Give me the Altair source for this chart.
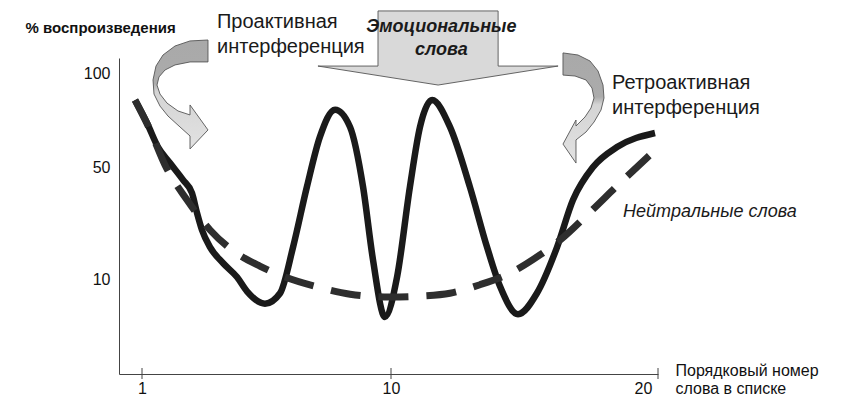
import altair as alt
import pandas as pd

# ---------------- chart data (word position in list, % recall) ----------------
emotional_pos = [0.747, 1.181, 1.578, 2.012, 2.482, 2.807, 2.988, 3.168, 3.458, 3.927, 4.433, 4.795,
                 5.445, 5.99, 6.46, 6.96, 7.43, 7.98, 8.52, 8.99, 9.35, 9.78, 10.24, 10.75, 11.15,
                 11.63, 12.34, 13.13, 13.81, 14.33, 15.04, 15.79, 16.59, 17.22, 18.02, 18.97, 20.48]
emotional_recall = [85.6, 73.4, 60.6, 52.1, 45.4, 40.7, 33.6, 27.5, 21.4, 15.7, 10.7, 8.7,
                    7.4, 8.5, 21.4, 42.9, 66.0, 80.5, 71.3, 42.9, 16.8, 6.0, 10.7, 42.9, 71.3,
                    85.6, 71.3, 42.9, 21.4, 9.2, 6.3, 8.5, 21.4, 38.2, 50.0, 60.6, 68.1]

neutral_pos = [0.75, 1.29, 1.83, 2.63, 3.46, 4.36, 5.26, 6.17, 7.43, 8.52, 9.96, 11.15, 12.34,
               13.53, 14.72, 15.91, 16.71, 17.90, 19.09, 20.28]
neutral_recall = [85.6, 69.7, 51.1, 38.2, 27.5, 19.6, 14.6, 10.7, 9.1, 8.4, 8.1, 8.2, 8.5,
                  9.4, 12.1, 18.6, 23.9, 33.9, 44.3, 56.4]

x_tick_values = [1, 10, 20]
y_tick_values = [10, 50, 100]
x_tick_marks = [1, 10, 20.6]

# scale breakpoints (schematic, non-uniform axis)
x_domain = [0.17, 1, 10, 20, 20.6]
y_domain = [0, 10, 50, 100, 108]

# ---------------- annotation shapes, in data units ----------------
emo_arrow_x = [7.36, 9.53, 9.531, 14.25, 14.251, 16.63, 11.87, 7.36]
emo_arrow_y = [103.7, 103.7, 133.1, 133.1, 103.7, 103.7, 93.6, 103.7]

pro_arrow_x = [3.385, 2.735, 2.193, 1.759, 1.506, 1.398, 1.434, 1.651, 1.940, 2.373, 2.735,
               2.735, 3.385, 2.735, 2.735, 2.301, 1.904, 1.651, 1.542, 1.614, 1.831, 2.193,
               2.735, 3.385, 3.385]
pro_arrow_y = [117.6, 117.1, 114.4, 109.6, 103.7, 96.3, 88.8, 82.4, 77.1, 71.3, 66.5,
               59.6, 69.7, 83.0, 77.7, 79.8, 84.0, 88.8, 93.6, 97.9, 101.6, 104.3,
               105.9, 105.9, 117.6]

retro_arrow_x = [16.825, 17.421, 17.897, 18.214, 18.413, 18.452, 18.333, 18.056, 17.738, 17.341,
                 17.341, 16.825, 17.341, 17.341, 17.698, 17.937, 18.056, 17.976, 17.738, 17.302,
                 16.825, 16.825]
retro_arrow_y = [110.7, 109.6, 106.4, 101.1, 93.6, 86.7, 80.3, 73.9, 68.6, 64.4,
                 52.1, 62.2, 75.0, 71.8, 76.6, 81.4, 86.7, 92.0, 96.3, 98.4,
                 98.9, 110.7]

interf_labels = ["Проактивная", "интерференция", "Ретроактивная", "интерференция"]
interf_x = [3.71, 3.71, 18.77, 18.77]
interf_y = [127.2, 113.9, 94.7, 81.4]

emo_labels = ["Эмоциональные", "слова"]
emo_label_x = [12.0, 12.0]
emo_label_y = [124.5, 112.3]

neutral_label = ["Нейтральные слова"]
neutral_label_x = [19.21]
neutral_label_y = [33.9]

# ---------------- build ----------------
W, H = 539, 316
FONT = "Liberation Sans"

xs = alt.Scale(domain=x_domain, range=[0, 23, 272, 524, 539], nice=False, zero=False)
ys = alt.Scale(domain=y_domain, range=[316, 221, 109, 15, 0], nice=False, zero=False)

x_axis = alt.Axis(
    values=x_tick_values, ticks=False, grid=False, labelFlush=False,
    labelFontSize=16, labelFont=FONT, labelColor="#111", labelPadding=6,
    labelBaseline="top", domainColor="#444", domainWidth=1,
    title=["Порядковый номер", "слова в списке"], titleFont=FONT,
    titleFontSize=16, titleFontWeight="normal", titleColor="#111", titleAngle=0,
    titleX=556, titleY=-4, titleAlign="left", titleBaseline="middle", titleLineHeight=18)
y_axis = alt.Axis(
    values=y_tick_values, ticks=False, grid=False, labelFlush=False,
    labelFontSize=16, labelFont=FONT, labelColor="#111", labelPadding=9,
    domainColor="#444", domainWidth=1,
    title="% воспроизведения", titleFont=FONT, titleFontSize=15,
    titleFontWeight="bold", titleColor="#111", titleAngle=0,
    titleX=-94, titleY=-31, titleAlign="left", titleBaseline="middle")


def X(field):
    return alt.X(field, scale=xs, axis=x_axis)


def Y(field):
    return alt.Y(field, scale=ys, axis=y_axis)


emo_df = pd.DataFrame({"pos": emotional_pos, "recall": emotional_recall})
neu_df = pd.DataFrame({"pos": neutral_pos, "recall": neutral_recall})

main = alt.Chart(emo_df).mark_line(
    color="#1a1a1a", strokeWidth=6.5, interpolate="monotone"
).encode(x=X("pos:Q"), y=Y("recall:Q"))

neutral = alt.Chart(neu_df).mark_line(
    color="#2e2e2e", strokeWidth=7, strokeDash=[30, 18], interpolate="monotone"
).encode(x=X("pos:Q"), y=Y("recall:Q"))

big_df = pd.DataFrame({"pos": emo_arrow_x, "recall": emo_arrow_y, "i": range(len(emo_arrow_x))})
big_arrow = alt.Chart(big_df).mark_line(
    fill="#d9d9d9", stroke="#555", strokeWidth=0.9
).encode(x=X("pos:Q"), y=Y("recall:Q"), order="i:Q")

curve_df = pd.concat([
    pd.DataFrame({"pos": pro_arrow_x, "recall": pro_arrow_y, "i": range(len(pro_arrow_x)), "shape": "pro"}),
    pd.DataFrame({"pos": retro_arrow_x, "recall": retro_arrow_y, "i": range(len(retro_arrow_x)), "shape": "retro"}),
])
grad = alt.Gradient(
    gradient="linear", x1=0, y1=0, x2=0, y2=1,
    stops=[alt.GradientStop(color="#a9a9a9", offset=0),
           alt.GradientStop(color="#ababab", offset=0.40),
           alt.GradientStop(color="#d4d4d4", offset=0.47),
           alt.GradientStop(color="#e2e2e2", offset=1)])
curved_arrows = alt.Chart(curve_df).mark_line(
    fill=grad, stroke="#555", strokeWidth=0.9
).encode(x=X("pos:Q"), y=Y("recall:Q"), detail="shape:N", order="i:Q")

ticks_df = pd.DataFrame({"pos": x_tick_marks})
ticks = alt.Chart(ticks_df).mark_rule(color="#444", strokeWidth=1).encode(
    x=X("pos:Q"), y=alt.value(H - 6), y2=alt.value(H + 5))

interf_df = pd.DataFrame({"label": interf_labels, "pos": interf_x, "recall": interf_y})
interf_text = alt.Chart(interf_df).mark_text(
    align="left", baseline="middle", font=FONT, fontSize=20, color="#1a1a1a"
).encode(x=X("pos:Q"), y=Y("recall:Q"), text="label:N")

emo_df_t = pd.DataFrame({"label": emo_labels, "pos": emo_label_x, "recall": emo_label_y})
emo_text = alt.Chart(emo_df_t).mark_text(
    align="center", baseline="middle", font=FONT, fontSize=18, fontWeight="bold",
    fontStyle="italic", color="#1a1a1a"
).encode(x=X("pos:Q"), y=Y("recall:Q"), text="label:N")

neu_df_t = pd.DataFrame({"label": neutral_label, "pos": neutral_label_x, "recall": neutral_label_y})
neu_text = alt.Chart(neu_df_t).mark_text(
    align="left", baseline="middle", font=FONT, fontSize=18, fontStyle="italic", color="#1a1a1a"
).encode(x=X("pos:Q"), y=Y("recall:Q"), text="label:N")

chart = alt.layer(
    main, big_arrow, curved_arrows, neutral, ticks, interf_text, emo_text, neu_text
).properties(
    width=W, height=H,
    padding={"left": 111, "top": 50, "right": 180, "bottom": 22},
    autosize=alt.AutoSizeParams(type="none"),
    background="white",
).configure_view(stroke=None)

chart.save("out.html", embed_options={"renderer": "svg", "actions": False})
